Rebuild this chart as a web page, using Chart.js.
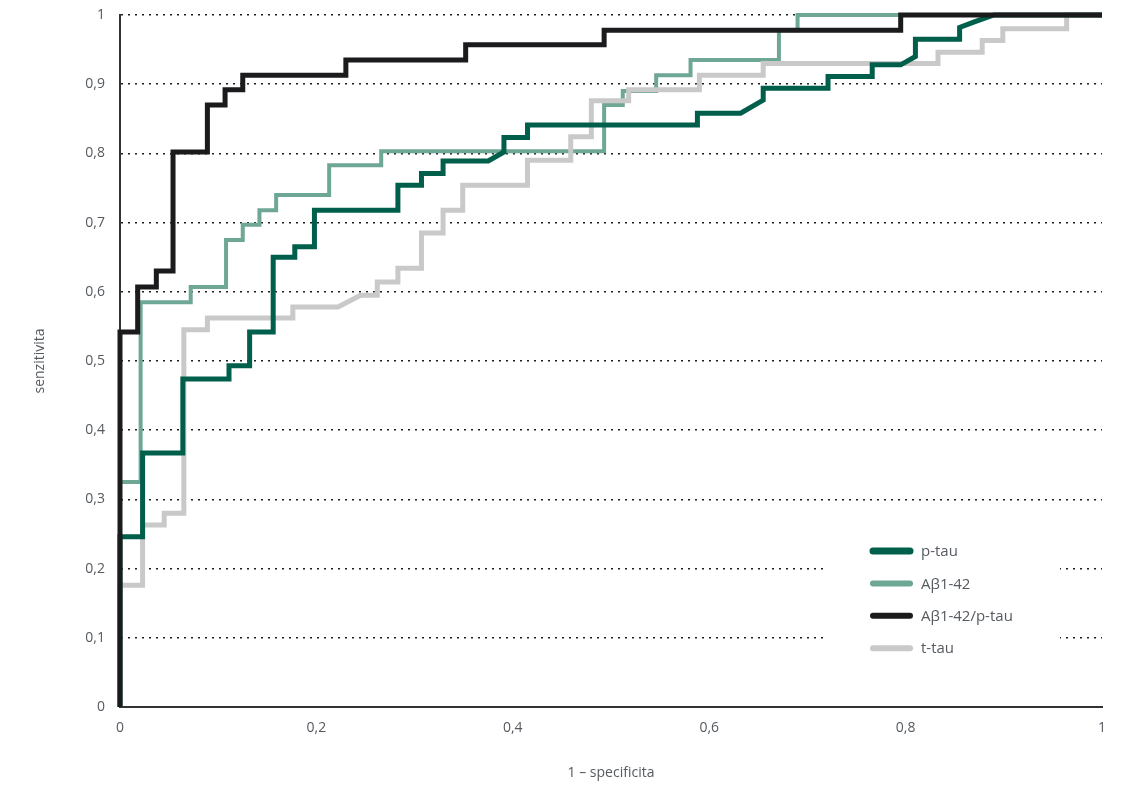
<!DOCTYPE html>
<html>
<head>
<meta charset="utf-8">
<title>ROC</title>
<script src="https://cdn.jsdelivr.net/npm/chart.js@4.4.1/dist/chart.umd.min.js"></script>
<style>
  html, body { margin: 0; padding: 0; background: #fff; }
  #wrap { width: 1142px; height: 800px; }
</style>
</head>
<body>
<div id="wrap"><canvas id="rocChart"></canvas></div>
<script>
const seriesNames = ['p-tau', 'Aβ1-42', 'Aβ1-42/p-tau', 't-tau'];

// ROC corners (1 - specificita, senzitivita)
const pTauX = [0, 0, 0.023, 0.023, 0.064, 0.064, 0.111, 0.111, 0.132, 0.132, 0.156, 0.156, 0.178, 0.178, 0.198, 0.198,
  0.283, 0.283, 0.307, 0.307, 0.329, 0.329, 0.375, 0.391, 0.391, 0.415, 0.415, 0.588, 0.588, 0.632, 0.655, 0.655,
  0.721, 0.721, 0.766, 0.766, 0.795, 0.81, 0.81, 0.855, 0.855, 0.87, 0.89, 1];
const pTauY = [0, 0.246, 0.246, 0.367, 0.367, 0.474, 0.474, 0.493, 0.493, 0.542, 0.542, 0.65, 0.65, 0.665, 0.665, 0.718,
  0.718, 0.754, 0.754, 0.771, 0.771, 0.789, 0.789, 0.802, 0.823, 0.823, 0.841, 0.841, 0.858, 0.858, 0.877, 0.894,
  0.894, 0.911, 0.911, 0.928, 0.928, 0.94, 0.965, 0.965, 0.982, 0.99, 1, 1];

const abetaX = [0, 0, 0.021, 0.021, 0.072, 0.072, 0.108, 0.108, 0.125, 0.125, 0.142, 0.142, 0.159, 0.159, 0.213, 0.213,
  0.266, 0.266, 0.493, 0.493, 0.512, 0.512, 0.546, 0.546, 0.581, 0.581, 0.671, 0.671, 0.69, 0.69, 1];
const abetaY = [0, 0.325, 0.325, 0.585, 0.585, 0.607, 0.607, 0.675, 0.675, 0.697, 0.697, 0.718, 0.718, 0.74, 0.74, 0.783,
  0.783, 0.803, 0.803, 0.87, 0.87, 0.89, 0.89, 0.913, 0.913, 0.935, 0.935, 0.978, 0.978, 1, 1];

const ratioX = [0, 0, 0.018, 0.018, 0.037, 0.037, 0.054, 0.054, 0.089, 0.089, 0.107, 0.107, 0.125, 0.125, 0.23, 0.23,
  0.352, 0.352, 0.493, 0.493, 0.795, 0.795, 1];
const ratioY = [0, 0.542, 0.542, 0.607, 0.607, 0.63, 0.63, 0.802, 0.802, 0.87, 0.87, 0.892, 0.892, 0.913, 0.913, 0.935,
  0.935, 0.957, 0.957, 0.978, 0.978, 1, 1];

const tTauX = [0, 0, 0.023, 0.023, 0.045, 0.045, 0.065, 0.065, 0.089, 0.089, 0.176, 0.176, 0.222, 0.245, 0.262, 0.262,
  0.283, 0.283, 0.307, 0.307, 0.329, 0.329, 0.349, 0.349, 0.415, 0.415, 0.459, 0.459, 0.48, 0.48, 0.518, 0.518,
  0.59, 0.59, 0.655, 0.655, 0.833, 0.833, 0.878, 0.878, 0.899, 0.899, 0.964, 0.964, 1];
const tTauY = [0, 0.176, 0.176, 0.263, 0.263, 0.28, 0.28, 0.545, 0.545, 0.562, 0.562, 0.578, 0.578, 0.595, 0.595, 0.614,
  0.614, 0.634, 0.634, 0.685, 0.685, 0.718, 0.718, 0.754, 0.754, 0.79, 0.79, 0.824, 0.824, 0.876, 0.876, 0.892,
  0.892, 0.913, 0.913, 0.93, 0.93, 0.946, 0.946, 0.963, 0.963, 0.98, 0.98, 1, 1];

const xTickLabels = ['0', '0,2', '0,4', '0,6', '0,8', '1'];
const yTickLabels = ['0', '0,1', '0,2', '0,3', '0,4', '0,5', '0,6', '0,7', '0,8', '0,9', '1'];

const toPoints = (xs, ys) => xs.map((x, i) => ({ x: x, y: ys[i] }));

const textColor = '#555a60';
const fontFamily = '"Open Sans", "Noto Sans", sans-serif';

// legend drawn inside the plot, on a white patch that cuts the grid lines
const innerLegend = {
  id: 'innerLegend',
  afterDatasetsDraw(chart) {
    const { ctx, chartArea } = chart;
    const left = chartArea.right - 277;
    const top = chartArea.bottom - 169;
    ctx.save();
    ctx.fillStyle = '#fff';
    ctx.fillRect(left, top, 235, 126);
    ctx.font = '15px ' + fontFamily;
    ctx.textBaseline = 'middle';
    chart.data.datasets.forEach((ds, i) => {
      const y = top + 13 + i * 32.4;
      ctx.strokeStyle = ds.borderColor;
      ctx.lineWidth = ds.legendWidth;
      ctx.lineCap = 'round';
      ctx.beginPath();
      ctx.moveTo(left + 48, y);
      ctx.lineTo(left + 85, y);
      ctx.stroke();
      ctx.fillStyle = textColor;
      ctx.fillText(ds.label, left + 96, y + 1);
    });
    ctx.restore();
  }
};

const lineStyle = { pointRadius: 0, pointHoverRadius: 0, tension: 0, fill: false, borderJoinStyle: 'miter', clip: false };

new Chart(document.getElementById('rocChart'), {
  type: 'line',
  data: {
    datasets: [
      { ...lineStyle, label: seriesNames[0], data: toPoints(pTauX, pTauY), borderColor: '#005f4b', borderWidth: 5, legendWidth: 7, order: 1 },
      { ...lineStyle, label: seriesNames[1], data: toPoints(abetaX, abetaY), borderColor: '#6fa796', borderWidth: 4, legendWidth: 6, order: 3 },
      { ...lineStyle, label: seriesNames[2], data: toPoints(ratioX, ratioY), borderColor: '#1b1b1d', borderWidth: 5, legendWidth: 6, order: 0 },
      { ...lineStyle, label: seriesNames[3], data: toPoints(tTauX, tTauY), borderColor: '#c9c9c9', borderWidth: 5, legendWidth: 6, order: 2 }
    ]
  },
  options: {
    responsive: true,
    maintainAspectRatio: false,
    animation: false,
    layout: { padding: { top: 15, right: 40, left: 0, bottom: 0 } },
    plugins: {
      legend: { display: false },
      tooltip: { enabled: false }
    },
    scales: {
      x: {
        type: 'linear',
        min: 0,
        max: 1,
        afterFit: (scale) => { scale.height = 93; scale.paddingLeft = 0; scale.paddingRight = 0; },
        afterBuildTicks: (scale) => { scale.ticks = xTickLabels.map((_, i) => ({ value: i * 0.2 })); },
        grid: { display: false, drawTicks: false },
        border: { display: true, color: '#333', width: 2 },
        ticks: {
          padding: 13,
          color: textColor,
          font: { family: fontFamily, size: 14 },
          callback: (value, index) => xTickLabels[index]
        },
        title: {
          display: true,
          text: '1 – specificita',
          color: textColor,
          font: { family: fontFamily, size: 14 },
          padding: { top: 0, bottom: 19 }
        }
      },
      y: {
        min: 0,
        max: 1,
        afterFit: (scale) => { scale.width = 120; scale.paddingTop = 0; scale.paddingBottom = 0; },
        afterBuildTicks: (scale) => { scale.ticks = yTickLabels.map((_, i) => ({ value: i / 10 })); },
        grid: {
          drawTicks: false,
          color: (c) => (c.index === 0 ? 'rgba(0,0,0,0)' : '#1e1e1e'),
          lineWidth: 1.6
        },
        border: { display: true, color: '#333', width: 2, dash: [2, 5] },
        ticks: {
          padding: 15,
          color: textColor,
          font: { family: fontFamily, size: 14 },
          callback: (value, index) => yTickLabels[index]
        },
        title: {
          display: true,
          text: 'senzitivita',
          color: textColor,
          font: { family: fontFamily, size: 14 },
          padding: { top: 32, bottom: 0 }
        }
      }
    }
  },
  plugins: [innerLegend]
});
</script>
</body>
</html>
